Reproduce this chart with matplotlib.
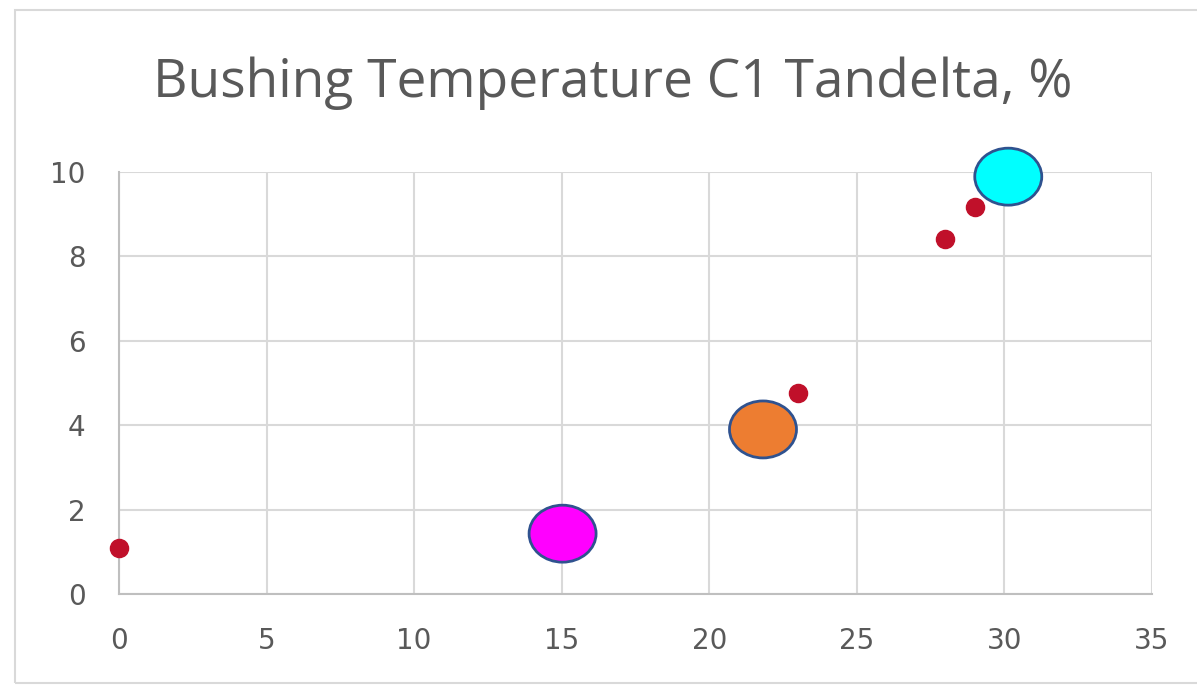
import matplotlib.pyplot as plt
from matplotlib.patches import Ellipse, Rectangle

# Data
red_x = [0, 23, 28, 29]
red_y = [1.09, 4.77, 8.41, 9.18]

blob_x = [15.03, 21.82, 30.13]
blob_y = [1.43, 3.90, 9.89]
blob_colors = ["#FF00FF", "#ED7D31", "#00FFFF"]

x_ticks = [0, 5, 10, 15, 20, 25, 30, 35]
y_ticks = [0, 2, 4, 6, 8, 10]

fig = plt.figure(figsize=(11.97, 6.9), dpi=100)
ax = fig.add_axes([0.0994, 0.1391, 0.8630, 0.6116])

ax.set_xlim(0, 35)
ax.set_ylim(0, 10)
ax.set_xticks(x_ticks)
ax.set_yticks(y_ticks)
ax.grid(True, color="#D9D9D9", linewidth=1.5)
ax.set_axisbelow(True)
for side in ["top", "right"]:
    ax.spines[side].set_visible(False)
for side in ["left", "bottom"]:
    ax.spines[side].set_color("#BFBFBF")
    ax.spines[side].set_linewidth(1.5)
ax.tick_params(length=0, labelsize=20, labelcolor="#595959")
ax.tick_params(axis="x", pad=24)
ax.tick_params(axis="y", pad=24)

# small red markers
ax.scatter(red_x, red_y, s=170, color="#C0102A", zorder=3, clip_on=False)

# big highlighted ellipses
for x, y, c in zip(blob_x, blob_y, blob_colors):
    ax.add_patch(Ellipse((x, y), 2.27, 1.35, facecolor=c, edgecolor="#2F528F",
                         linewidth=2, zorder=4, clip_on=False))

fig.text(0.512, 0.880, "Bushing Temperature C1 Tandelta, %", ha="center", va="center",
         fontsize=38.3, color="#595959", family="Open Sans")

# outer chart frame
fig.patches.append(Rectangle((15 / 1197, 1 - 683 / 690), 1.0, 673 / 690,
                             transform=fig.transFigure, fill=False,
                             edgecolor="#D9D9D9", linewidth=1.5))

fig.savefig("out.png", dpi=100)
